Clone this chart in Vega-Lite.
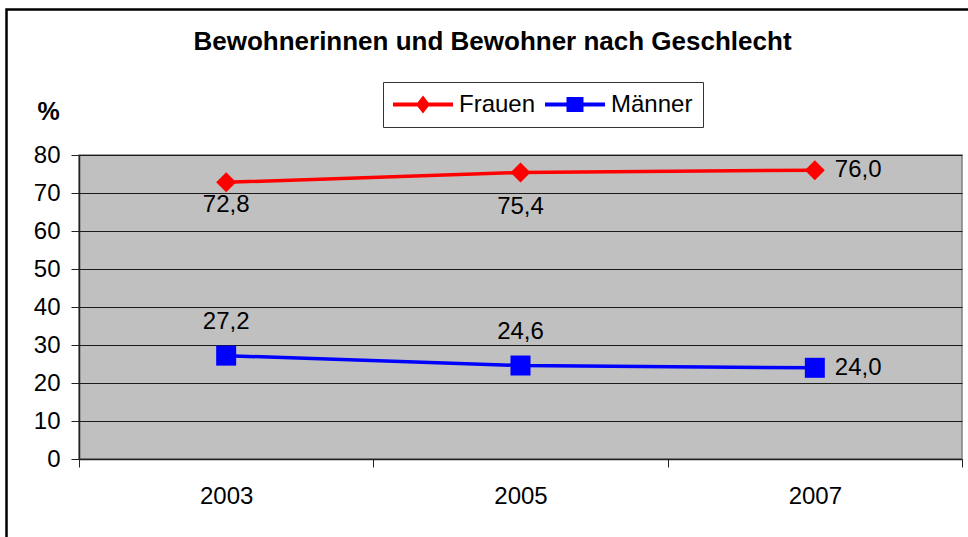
{
  "$schema": "https://vega.github.io/schema/vega-lite/v6.json",
  "autosize": {"type": "none"},
  "width": 883,
  "height": 304,
  "padding": {"left": 79, "top": 155, "right": 6, "bottom": 78},
  "background": "white",
  "config": {
    "locale": {"number": {"decimal": ",", "thousands": ".", "grouping": [3], "currency": ["", " €"]}},
    "font": "Liberation Sans",
    "view": {"fill": "#C0C0C0", "stroke": "#808080", "strokeWidth": 1.5}
  },
  "title": {
    "text": "Bewohnerinnen und Bewohner nach Geschlecht",
    "frame": "group",
    "anchor": "middle",
    "baseline": "alphabetic",
    "offset": -68,
    "dx": -28,
    "fontSize": 26,
    "fontWeight": "bold",
    "color": "black",
    "font": "Liberation Sans"
  },
  "layer": [
    {
      "data": {"values": [{}]},
      "mark": {"type": "rect", "filled": false, "stroke": "black", "strokeWidth": 2.5, "clip": false},
      "encoding": {
        "x": {"datum": -0.0821, "type": "quantitative", "scale": {"domain": [0, 1]}, "axis": null},
        "x2": {"datum": 1.2},
        "y": {"datum": 118.3, "type": "quantitative", "scale": {"domain": [0, 80]}, "axis": null},
        "y2": {"datum": -30}
      }
    },
    {
      "data": {
        "values": [
          {"year": "2003", "series": "Frauen", "value": 72.8},
          {"year": "2005", "series": "Frauen", "value": 75.4},
          {"year": "2007", "series": "Frauen", "value": 76.0},
          {"year": "2003", "series": "Männer", "value": 27.2},
          {"year": "2005", "series": "Männer", "value": 24.6},
          {"year": "2007", "series": "Männer", "value": 24.0}
        ]
      },
      "encoding": {
        "x": {
          "field": "year",
          "type": "ordinal",
          "scale": {"type": "band", "domain": ["2003", "2005", "2007"], "paddingInner": 0, "paddingOuter": 0},
          "axis": {
            "title": null,
            "tickBand": "extent",
            "labelAngle": 0,
            "domainColor": "#222",
            "domainWidth": 1.5,
            "tickColor": "#222",
            "tickWidth": 1,
            "tickSize": 8,
            "labelFontSize": 24,
            "labelColor": "black",
            "labelBaseline": "alphabetic",
            "labelPadding": 36,
            "grid": false
          }
        },
        "y": {
          "field": "value",
          "type": "quantitative",
          "scale": {"domain": [0, 80]},
          "axis": {
            "values": [0, 10, 20, 30, 40, 50, 60, 70, 80],
            "title": "%",
            "titleAngle": 0,
            "titleX": -31,
            "titleY": -36,
            "titleAlign": "center",
            "titleBaseline": "alphabetic",
            "titleFontSize": 25,
            "titleFontWeight": "bold",
            "titleColor": "black",
            "labelFontSize": 24,
            "labelColor": "black",
            "labelPadding": 11,
            "tickSize": 8,
            "tickColor": "#222",
            "domainColor": "#222",
            "domainWidth": 1.5,
            "grid": true,
            "gridColor": "#1a1a1a",
            "gridWidth": 1
          }
        }
      },
      "layer": [
        {
          "mark": {"type": "line", "strokeWidth": 3.5},
          "encoding": {
            "color": {
              "field": "series",
              "type": "nominal",
              "scale": {"domain": ["Frauen", "Männer"], "range": ["#ff0000", "#0000ff"]},
              "legend": {
                "title": null,
                "orient": "none",
                "legendX": 304,
                "legendY": -73,
                "direction": "horizontal",
                "padding": 10,
                "strokeColor": "#333",
                "fillColor": "white",
                "labelFontSize": 24,
                "labelColor": "black",
                "labelOffset": 6,
                "columnPadding": 9,
                "symbolSize": 3600,
                "clipHeight": 25,
                "symbolStrokeWidth": 0,
                "encode": {
                  "symbols": {
                    "update": {
                      "shape": {"signal": "datum.value === 'Frauen' ? 'M-1,-0.067L1,-0.067L1,0.067L-1,0.067ZM0,-0.3L0.233,0L0,0.3L-0.233,0Z' : 'M-1,-0.067L1,-0.067L1,0.067L-1,0.067ZM-0.283,-0.25L0.283,-0.25L0.283,0.25L-0.283,0.25Z'"},
                      "fill": {"signal": "datum.value === 'Frauen' ? '#ff0000' : '#0000ff'"},
                      "stroke": {"value": "transparent"},
                      "strokeWidth": {"value": 0},
                      "size": {"value": 3600},
                      "opacity": {"value": 1},
                      "fillOpacity": {"value": 1}
                    }
                  }
                }
              }
            }
          }
        },
        {
          "transform": [{"filter": "datum.series === 'Frauen'"}],
          "mark": {"type": "point", "filled": true, "shape": "diamond", "size": 400, "opacity": 1, "color": "#ff0000"}
        },
        {
          "transform": [{"filter": "datum.series === 'Männer'"}],
          "mark": {"type": "point", "filled": true, "shape": "square", "size": 400, "opacity": 1, "color": "#0000ff"}
        },
        {
          "transform": [{"filter": "datum.series === 'Frauen' && datum.year === '2003'"}],
          "mark": {"type": "text", "baseline": "alphabetic", "dy": 30, "fontSize": 24, "color": "black"},
          "encoding": {"text": {"field": "value", "type": "quantitative", "format": ".1f"}}
        },
        {
          "transform": [{"filter": "datum.series === 'Frauen' && datum.year === '2005'"}],
          "mark": {"type": "text", "baseline": "alphabetic", "dy": 42, "fontSize": 24, "color": "black"},
          "encoding": {"text": {"field": "value", "type": "quantitative", "format": ".1f"}}
        },
        {
          "transform": [{"filter": "datum.series === 'Männer' && datum.year !== '2007'"}],
          "mark": {"type": "text", "baseline": "alphabetic", "dy": -27, "fontSize": 24, "color": "black"},
          "encoding": {"text": {"field": "value", "type": "quantitative", "format": ".1f"}}
        },
        {
          "transform": [{"filter": "datum.year === '2007'"}],
          "mark": {"type": "text", "align": "left", "baseline": "middle", "dx": 20, "fontSize": 24, "color": "black"},
          "encoding": {"text": {"field": "value", "type": "quantitative", "format": ".1f"}}
        }
      ]
    }
  ],
  "resolve": {"scale": {"x": "independent", "y": "independent"}}
}
